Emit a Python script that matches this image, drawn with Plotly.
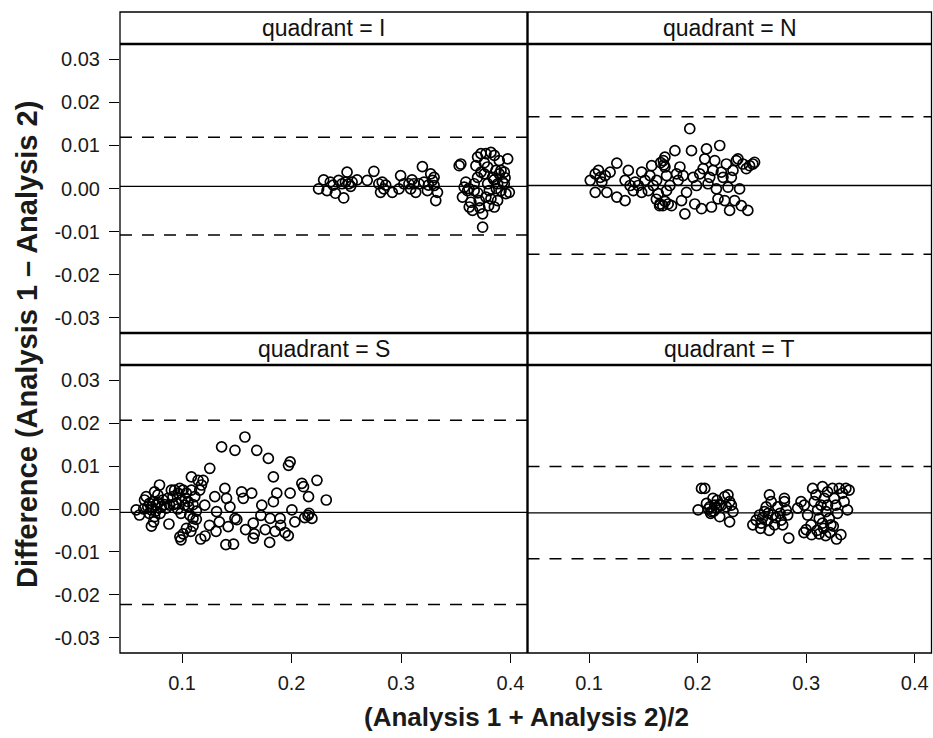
import plotly.graph_objects as go

# ---------------- data ----------------
quadrants = ["I", "N", "S", "T"]
bias = [0.0005, 0.0007, -0.0008, -0.0009]
loa_upper = [0.0119, 0.0167, 0.0207, 0.0099]
loa_lower = [-0.0108, -0.0153, -0.0223, -0.0116]

x_I = [0.2247, 0.2293, 0.2324, 0.2354, 0.2400, 0.2430, 0.2461, 0.2476, 0.2492, 0.2507,
       0.2522, 0.2553, 0.2599, 0.2691, 0.2752, 0.2797, 0.2828, 0.2813, 0.2843, 0.2920,
       0.2981, 0.2996, 0.3026, 0.3072, 0.3088, 0.3118, 0.3134, 0.3164, 0.3195, 0.3210,
       0.3241, 0.3271, 0.3287, 0.3302, 0.3302, 0.3317, 0.3333, 0.2380, 0.2540, 0.2860,
       0.3100, 0.3250,
       0.3531, 0.3546, 0.3577, 0.3561, 0.3592, 0.3607, 0.3623, 0.3638, 0.3653, 0.3668,
       0.3684, 0.3699, 0.3714, 0.3730, 0.3745, 0.3745, 0.3760, 0.3775, 0.3791, 0.3806,
       0.3821, 0.3836, 0.3852, 0.3852, 0.3867, 0.3882, 0.3897, 0.3913, 0.3928, 0.3943,
       0.3958, 0.3974, 0.3989, 0.3699, 0.3730, 0.3668, 0.3775, 0.3913, 0.3943, 0.3821,
       0.3882, 0.3897, 0.3790, 0.3850, 0.3700, 0.3620, 0.3800, 0.3870, 0.3950, 0.3760,
       0.3720]
y_I = [-0.0001, 0.0020, -0.0005, 0.0015, -0.0011, 0.0019, 0.0011, -0.0022, 0.0015, 0.0038,
       0.0011, 0.0015, 0.0020, 0.0019, 0.0040, 0.0011, 0.0015, -0.0009, -0.0001, -0.0009,
       -0.0001, 0.0030, 0.0011, 0.0011, -0.0001, 0.0011, -0.0009, 0.0011, 0.0051, 0.0015,
       -0.0005, 0.0034, 0.0019, 0.0026, 0.0007, -0.0028, -0.0009, 0.0008, 0.0005, 0.0008,
       0.0020, 0.0008,
       0.0053, 0.0057, 0.0003, -0.0020, 0.0015, -0.0005, -0.0043, -0.0032, -0.0051, 0.0011,
       0.0053, 0.0073, -0.0028, 0.0081, -0.0059, -0.0090, 0.0034, 0.0081, 0.0011, -0.0005,
       0.0084, 0.0026, 0.0077, -0.0043, 0.0042, 0.0011, 0.0034, -0.0005, 0.0015, 0.0011,
       -0.0012, 0.0069, -0.0009, 0.0026, 0.0038, -0.0005, -0.0020, 0.0042, 0.0038, -0.0024,
       -0.0028, 0.0065, 0.0050, 0.0020, -0.0010, 0.0000, -0.0040, 0.0000, 0.0025, 0.0060,
       -0.0045]

x_N = [0.1011, 0.1057, 0.1087, 0.1103, 0.1118, 0.1149, 0.1057, 0.1164, 0.1194, 0.1256,
       0.1256, 0.1332, 0.1332, 0.1362, 0.1378, 0.1408, 0.1424, 0.1454, 0.1485, 0.1485,
       0.1516, 0.1546, 0.1561, 0.1577, 0.1592, 0.1623, 0.1638, 0.1653, 0.1684, 0.1699,
       0.1699, 0.1714, 0.1714, 0.1729, 0.1745, 0.1760, 0.1791, 0.1806, 0.1821, 0.1837,
       0.1852, 0.1867, 0.1883, 0.1898, 0.1928, 0.1944, 0.1959, 0.1974, 0.1990, 0.2020,
       0.2036, 0.2051, 0.2066, 0.2082, 0.2096, 0.2112, 0.2128, 0.2142, 0.2158, 0.2173,
       0.2188, 0.2204, 0.2219, 0.2234, 0.2250, 0.2265, 0.2280, 0.2295, 0.2311, 0.2326,
       0.2341, 0.2357, 0.2372, 0.2387, 0.2403, 0.2417, 0.2449, 0.2463, 0.2479, 0.2509,
       0.2525, 0.1650, 0.1680, 0.1700, 0.1620, 0.1660, 0.1690]
y_N = [0.0019, 0.0034, 0.0042, 0.0026, 0.0015, 0.0030, -0.0009, -0.0009, 0.0038, 0.0059,
       -0.0020, -0.0028, 0.0019, 0.0042, 0.0007, -0.0005, 0.0015, 0.0007, 0.0038, -0.0009,
       0.0019, -0.0005, 0.0030, 0.0053, 0.0007, 0.0019, -0.0012, -0.0036, 0.0065, 0.0073,
       0.0050, 0.0030, -0.0005, -0.0036, 0.0007, -0.0040, 0.0088, 0.0034, 0.0019, 0.0050,
       -0.0028, 0.0030, -0.0059, -0.0009, 0.0139, 0.0088, 0.0026, -0.0036, 0.0007, 0.0034,
       -0.0047, 0.0046, 0.0069, 0.0092, 0.0011, 0.0026, -0.0043, 0.0042, 0.0065, -0.0001,
       -0.0024, 0.0100, 0.0038, 0.0026, -0.0028, 0.0057, 0.0003, -0.0051, 0.0026, 0.0042,
       -0.0028, 0.0065, 0.0069, -0.0001, -0.0040, 0.0057, 0.0046, -0.0051, 0.0053, 0.0057,
       0.0061, -0.0040, -0.0040, -0.0030, -0.0025, 0.0060, 0.0055]

x_S = [0.0581, 0.0611, 0.0657, 0.0672, 0.0687, 0.0703, 0.0718, 0.0733, 0.0749, 0.0749,
       0.0764, 0.0779, 0.0794, 0.0810, 0.0825, 0.0856, 0.0886, 0.0902, 0.0917, 0.0932,
       0.0948, 0.0963, 0.0978, 0.0994, 0.1009, 0.1024, 0.1039, 0.1055, 0.1070, 0.1085,
       0.1085, 0.1100, 0.1116, 0.1146, 0.1161, 0.1177, 0.1192, 0.1207, 0.1253, 0.1299,
       0.1315, 0.1361, 0.1391, 0.1406, 0.1421, 0.1437, 0.1483, 0.1483, 0.1544, 0.1559,
       0.1574, 0.1636, 0.1650, 0.1682, 0.1728, 0.1788, 0.1804, 0.1834, 0.1834, 0.1865,
       0.1895, 0.1972, 0.1987, 0.1987, 0.2003, 0.2094, 0.2109, 0.2155, 0.2186, 0.2232,
       0.2317, 0.2150,
       0.0980, 0.0990, 0.1010, 0.1040, 0.1080, 0.1170, 0.1210, 0.1250, 0.1310, 0.1400,
       0.1470, 0.1500, 0.1580, 0.1650, 0.1660, 0.1720, 0.1760, 0.1800, 0.1850, 0.1940,
       0.1970, 0.2030, 0.2120, 0.2160, 0.1900, 0.1340, 0.1130, 0.0880, 0.0720, 0.1100,
       0.0700, 0.0720, 0.0760, 0.0780, 0.0650, 0.0740, 0.0800, 0.0840, 0.0870, 0.0920,
       0.0960, 0.0990, 0.1030, 0.1060, 0.1100, 0.1130]
y_S = [-0.0002, -0.0014, 0.0021, 0.0029, 0.0005, 0.0013, -0.0002, 0.0017, -0.0018, 0.0040,
       0.0009, 0.0033, 0.0056, 0.0005, 0.0021, 0.0002, 0.0009, 0.0044, 0.0029, 0.0044,
       0.0013, 0.0037, 0.0048, 0.0021, 0.0044, 0.0009, 0.0037, 0.0017, -0.0014, 0.0075,
       0.0044, -0.0022, 0.0029, 0.0067, 0.0044, 0.0056, 0.0067, 0.0009, 0.0095, 0.0029,
       -0.0006, 0.0145, 0.0048, 0.0025, -0.0041, 0.0005, -0.0022, 0.0137, 0.0040, 0.0025,
       0.0168, 0.0037, -0.0033, 0.0137, 0.0009, 0.0118, -0.0022, 0.0017, 0.0075, 0.0037,
       -0.0022, 0.0102, 0.0110, 0.0037, -0.0002, 0.0060, 0.0052, 0.0029, -0.0022, 0.0067,
       0.0021, -0.0015,
       -0.0065, -0.0072, -0.0058, -0.0045, -0.0052, -0.0070, -0.0063, -0.0038, -0.0052, -0.0083,
       -0.0082, -0.0025, -0.0048, -0.0068, -0.0058, -0.0015, -0.0048, -0.0078, -0.0052, -0.0055,
       -0.0062, -0.0030, -0.0020, -0.0010, -0.0038, -0.0030, -0.0024, -0.0035, -0.0040, -0.0040,
       -0.0010, 0.0005, -0.0005, 0.0015, 0.0000, -0.0030, -0.0010, 0.0010, 0.0025, 0.0010,
       0.0000, -0.0010, 0.0025, 0.0005, 0.0010, -0.0005]

x_T = [0.2005, 0.2036, 0.2066, 0.2082, 0.2112, 0.2128, 0.2142, 0.2158, 0.2173, 0.2204,
       0.2219, 0.2250, 0.2265, 0.2280, 0.2295, 0.2295, 0.2311, 0.2326, 0.2100, 0.2150,
       0.2200, 0.2180, 0.2120,
       0.2509, 0.2540, 0.2571, 0.2586, 0.2617, 0.2632, 0.2647, 0.2662, 0.2678, 0.2693,
       0.2708, 0.2739, 0.2770, 0.2784, 0.2800, 0.2816, 0.2830, 0.2600, 0.2650, 0.2720,
       0.2760, 0.2800, 0.2660, 0.2580,
       0.2922, 0.2953, 0.2983, 0.3014, 0.3045, 0.3060, 0.3075, 0.3091, 0.3106, 0.3121,
       0.3137, 0.3151, 0.3167, 0.3183, 0.3197, 0.3213, 0.3228, 0.3243, 0.3259, 0.3274,
       0.3289, 0.3305, 0.3335, 0.3350, 0.3366, 0.3381, 0.3396, 0.3151, 0.3197,
       0.2840, 0.2980, 0.3050, 0.3120, 0.3180, 0.3220, 0.3280, 0.3320, 0.3100, 0.3000,
       0.3160, 0.3250]
y_T = [-0.0002, 0.0048, 0.0048, 0.0013, 0.0005, -0.0006, 0.0025, 0.0009, 0.0002, -0.0018,
       0.0009, 0.0029, 0.0005, 0.0033, 0.0017, -0.0030, 0.0009, -0.0006, 0.0000, -0.0005,
       0.0010, 0.0020, -0.0010,
       -0.0037, -0.0026, -0.0014, -0.0033, -0.0006, 0.0005, -0.0026, 0.0033, 0.0017, -0.0014,
       -0.0037, 0.0005, -0.0026, -0.0037, 0.0017, -0.0002, -0.0014, -0.0020, -0.0010, -0.0020,
       -0.0010, 0.0025, -0.0050, -0.0045,
       0.0002, 0.0017, 0.0009, -0.0014, -0.0037, 0.0048, 0.0017, 0.0033, -0.0002, -0.0022,
       0.0009, -0.0033, 0.0025, -0.0006, 0.0009, -0.0022, -0.0037, 0.0048, 0.0025, 0.0009,
       -0.0010, 0.0048, 0.0037, 0.0017, 0.0048, -0.0002, 0.0044, 0.0052, 0.0040,
       -0.0068, -0.0055, -0.0060, -0.0058, -0.0062, -0.0055, -0.0070, -0.0060, -0.0050, -0.0048,
       -0.0045, -0.0040]

x_ticks = [0.1, 0.2, 0.3, 0.4]
x_tick_text = ["0.1", "0.2", "0.3", "0.4"]
y_ticks = [-0.03, -0.02, -0.01, 0.0, 0.01, 0.02, 0.03]
y_tick_text = ["-0.03", "-0.02", "-0.01", "0.00", "0.01", "0.02", "0.03"]

# ---------------- layout geometry (page pixels) ----------------
W, H = 933, 738
LEFT, MID, RIGHT = 120, 527.5, 931.5
TOP_STRIP, TOP_PLOT, MID_LINE, BOT_PLOT, BOTTOM = 12, 44, 333, 365, 653


def fx(p):
    return p / W


def fy(p):
    return 1 - p / H


FONT = "Liberation Sans, Arial, sans-serif"
xs = [x_I, x_N, x_S, x_T]
ys = [y_I, y_N, y_S, y_T]

fig = go.Figure()
for i in range(4):
    sfx = "" if i == 0 else str(i + 1)
    fig.add_trace(go.Scatter(
        x=xs[i], y=ys[i], mode="markers", xaxis="x" + sfx, yaxis="y" + sfx,
        marker=dict(symbol="circle-open", size=10, color="black",
                    line=dict(width=1.7, color="black")),
        showlegend=False, hoverinfo="x+y"))

x_domains = [[fx(LEFT), fx(MID)], [fx(MID), fx(RIGHT)]] * 2
y_domains = [[fy(MID_LINE), fy(TOP_PLOT)]] * 2 + [[fy(BOTTOM), fy(BOT_PLOT)]] * 2

layout = dict(
    width=W, height=H,
    margin=dict(l=0, r=0, t=0, b=0),
    paper_bgcolor="white", plot_bgcolor="white",
    font=dict(family=FONT, color="#111111"),
    showlegend=False,
)
for i in range(4):
    sfx = "" if i == 0 else str(i + 1)
    bottom_row = i >= 2
    left_col = i % 2 == 0
    layout["xaxis" + sfx] = dict(
        domain=x_domains[i], anchor="y" + sfx, range=[0.0433, 0.4155],
        showgrid=False, zeroline=False, showline=False,
        tickvals=x_ticks, ticktext=x_tick_text,
        showticklabels=bottom_row, ticks="outside" if bottom_row else "",
        ticklen=9, tickwidth=1.3, tickcolor="black", ticklabelstandoff=3,
        ticklabeloverflow="allow",
        tickfont=dict(size=20, family=FONT, color="#1a1a1a"),
    )
    layout["yaxis" + sfx] = dict(
        domain=y_domains[i], anchor="x" + sfx, range=[-0.0336, 0.0336],
        showgrid=False, zeroline=False, showline=False,
        tickvals=y_ticks, ticktext=y_tick_text,
        showticklabels=left_col, ticks="outside" if left_col else "",
        ticklen=10, tickwidth=1.3, tickcolor="black", ticklabelstandoff=5,
        ticklabeloverflow="allow",
        tickfont=dict(size=20, family=FONT, color="#1a1a1a"),
    )

shapes = []
# reference lines (bias and limits of agreement)
for i in range(4):
    sfx = "" if i == 0 else str(i + 1)
    shapes.append(dict(type="line", xref="x" + sfx + " domain", x0=0, x1=1,
                       yref="y" + sfx, y0=bias[i], y1=bias[i],
                       line=dict(color="black", width=1.3)))
    for v in (loa_upper[i], loa_lower[i]):
        shapes.append(dict(type="line", xref="x" + sfx + " domain", x0=0, x1=1,
                           yref="y" + sfx, y0=v, y1=v,
                           line=dict(color="black", width=1.6, dash="12px,10px")))

# frame
shapes.append(dict(type="rect", xref="paper", yref="paper",
                   x0=fx(LEFT), x1=fx(RIGHT), y0=fy(BOTTOM), y1=fy(TOP_STRIP),
                   line=dict(color="black", width=1.3)))
for yy in (TOP_PLOT, MID_LINE, BOT_PLOT):
    shapes.append(dict(type="line", xref="paper", yref="paper",
                       x0=fx(LEFT), x1=fx(RIGHT), y0=fy(yy), y1=fy(yy),
                       line=dict(color="black", width=2.6)))
shapes.append(dict(type="line", xref="paper", yref="paper",
                   x0=fx(MID), x1=fx(MID), y0=fy(BOTTOM), y1=fy(TOP_STRIP),
                   line=dict(color="black", width=2.4)))
layout["shapes"] = shapes

annotations = []
strip_centers = [((LEFT + MID) / 2, (TOP_STRIP + TOP_PLOT) / 2),
                 ((MID + RIGHT) / 2, (TOP_STRIP + TOP_PLOT) / 2),
                 ((LEFT + MID) / 2, (MID_LINE + BOT_PLOT) / 2),
                 ((MID + RIGHT) / 2, (MID_LINE + BOT_PLOT) / 2)]
for q, (cx, cy) in zip(quadrants, strip_centers):
    annotations.append(dict(text="quadrant = " + q, xref="paper", yref="paper",
                            x=fx(cx), y=fy(cy), showarrow=False,
                            xanchor="center", yanchor="middle",
                            font=dict(size=23, family=FONT, color="#111111")))
annotations.append(dict(text="<b>Difference (Analysis 1 – Analysis 2)</b>",
                        xref="paper", yref="paper", x=fx(27), y=fy(345),
                        textangle=-90, showarrow=False, xanchor="center", yanchor="middle",
                        font=dict(size=29, family=FONT, color="#1a1a1a")))
annotations.append(dict(text="<b>(Analysis 1 + Analysis 2)/2</b>",
                        xref="paper", yref="paper", x=fx(526), y=fy(717),
                        showarrow=False, xanchor="center", yanchor="middle",
                        font=dict(size=26, family=FONT, color="#1a1a1a")))
layout["annotations"] = annotations

fig.update_layout(**layout)
fig.write_html("out.html", config={"displayModeBar": False},
               post_script="document.body.style.margin='0px';")
